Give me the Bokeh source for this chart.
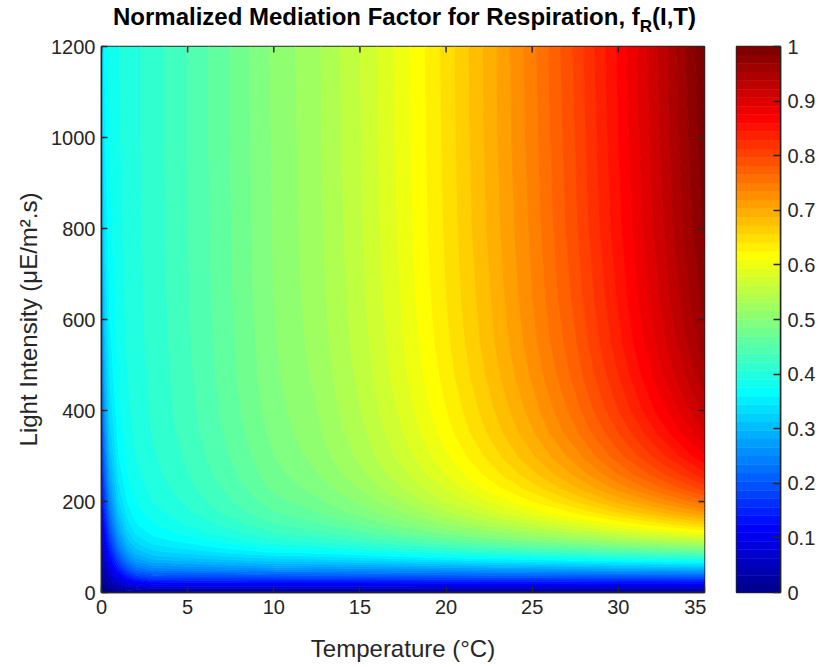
import numpy as np
from bokeh.plotting import figure
from bokeh.layouts import column, row
from bokeh.models import FixedTicker, NumeralTickFormatter, Range1d, Div
from bokeh.embed import file_html
from bokeh.resources import INLINE

# Grid of temperatures (deg C) and light intensities (uE/m^2.s)
temperature = [0, 0.25, 0.5, 1, 1.5, 2, 3, 4, 5, 7.5, 10, 12.5, 15, 17.5, 20,
               22.5, 25, 27.5, 30, 32.5, 35]
intensity = [0, 10, 20, 30, 40, 50, 60, 70, 80, 90, 100, 115, 130, 150, 175,
             200, 230, 260, 300, 350, 400, 475, 550, 650, 800, 1000, 1200]

# Normalized factor f_R along temperature, one list per light intensity
f_I0 = [0.000] * 21
f_I10 = [0.006, 0.010, 0.016, 0.029, 0.041, 0.050, 0.057, 0.057, 0.057, 0.057, 0.057,
         0.057, 0.057, 0.057, 0.058, 0.058, 0.058, 0.058, 0.058, 0.058, 0.058]
f_I20 = [0.012, 0.021, 0.032, 0.057, 0.081, 0.099, 0.111, 0.111, 0.112, 0.112, 0.113,
         0.113, 0.113, 0.114, 0.114, 0.114, 0.114, 0.114, 0.115, 0.115, 0.115]
f_I30 = [0.017, 0.031, 0.048, 0.085, 0.119, 0.143, 0.160, 0.161, 0.161, 0.163, 0.164,
         0.165, 0.166, 0.167, 0.168, 0.168, 0.169, 0.170, 0.170, 0.170, 0.171]
f_I40 = [0.023, 0.041, 0.064, 0.111, 0.153, 0.182, 0.202, 0.203, 0.204, 0.207, 0.210,
         0.212, 0.215, 0.217, 0.218, 0.220, 0.221, 0.222, 0.223, 0.224, 0.225]
f_I50 = [0.029, 0.052, 0.079, 0.136, 0.184, 0.215, 0.237, 0.239, 0.241, 0.246, 0.251,
         0.252, 0.253, 0.255, 0.258, 0.262, 0.264, 0.267, 0.271, 0.274, 0.278]
f_I60 = [0.035, 0.062, 0.094, 0.159, 0.211, 0.243, 0.266, 0.269, 0.272, 0.279, 0.286,
         0.288, 0.291, 0.295, 0.299, 0.305, 0.309, 0.313, 0.318, 0.323, 0.328]
f_I70 = [0.040, 0.071, 0.109, 0.180, 0.235, 0.267, 0.290, 0.294, 0.297, 0.307, 0.315,
         0.318, 0.323, 0.330, 0.337, 0.344, 0.349, 0.356, 0.363, 0.370, 0.375]
f_I80 = [0.046, 0.081, 0.123, 0.199, 0.255, 0.286, 0.309, 0.314, 0.318, 0.330, 0.341,
         0.344, 0.351, 0.361, 0.371, 0.379, 0.387, 0.395, 0.404, 0.413, 0.420]
f_I90 = [0.051, 0.091, 0.136, 0.217, 0.273, 0.303, 0.324, 0.330, 0.335, 0.349, 0.362,
         0.368, 0.376, 0.388, 0.400, 0.410, 0.421, 0.431, 0.442, 0.452, 0.462]
f_I100 = [0.057, 0.100, 0.149, 0.233, 0.288, 0.316, 0.337, 0.343, 0.349, 0.365, 0.380,
          0.387, 0.398, 0.411, 0.425, 0.439, 0.451, 0.463, 0.477, 0.489, 0.501]
f_I115 = [0.065, 0.114, 0.168, 0.254, 0.306, 0.332, 0.352, 0.359, 0.366, 0.384, 0.402,
          0.411, 0.425, 0.441, 0.458, 0.475, 0.491, 0.506, 0.524, 0.540, 0.555]
f_I130 = [0.074, 0.127, 0.185, 0.271, 0.321, 0.345, 0.363, 0.371, 0.379, 0.399, 0.419,
          0.430, 0.446, 0.466, 0.486, 0.505, 0.524, 0.543, 0.564, 0.583, 0.603]
f_I150 = [0.084, 0.144, 0.206, 0.291, 0.336, 0.357, 0.374, 0.383, 0.392, 0.413, 0.436,
          0.450, 0.469, 0.491, 0.515, 0.538, 0.561, 0.585, 0.610, 0.634, 0.658]
f_I175 = [0.098, 0.164, 0.228, 0.310, 0.349, 0.368, 0.384, 0.393, 0.403, 0.427, 0.451,
          0.467, 0.489, 0.514, 0.542, 0.570, 0.597, 0.625, 0.655, 0.685, 0.715]
f_I200 = [0.111, 0.183, 0.248, 0.325, 0.359, 0.375, 0.391, 0.400, 0.410, 0.436, 0.462,
          0.480, 0.503, 0.532, 0.563, 0.593, 0.624, 0.656, 0.692, 0.726, 0.761]
f_I230 = [0.125, 0.203, 0.268, 0.338, 0.368, 0.382, 0.396, 0.406, 0.417, 0.443, 0.472,
          0.491, 0.516, 0.547, 0.580, 0.615, 0.648, 0.685, 0.724, 0.764, 0.804]
f_I260 = [0.140, 0.221, 0.285, 0.348, 0.374, 0.386, 0.400, 0.411, 0.421, 0.449, 0.478,
          0.499, 0.526, 0.558, 0.594, 0.630, 0.667, 0.706, 0.750, 0.793, 0.838]
f_I300 = [0.158, 0.242, 0.303, 0.358, 0.379, 0.390, 0.404, 0.414, 0.425, 0.454, 0.484,
          0.506, 0.535, 0.569, 0.606, 0.645, 0.685, 0.727, 0.775, 0.823, 0.873]
f_I350 = [0.179, 0.264, 0.320, 0.366, 0.384, 0.394, 0.407, 0.418, 0.429, 0.458, 0.489,
          0.512, 0.541, 0.577, 0.617, 0.658, 0.700, 0.746, 0.796, 0.849, 0.904]
f_I400 = [0.198, 0.282, 0.332, 0.372, 0.387, 0.396, 0.409, 0.420, 0.431, 0.461, 0.493,
          0.515, 0.546, 0.583, 0.624, 0.666, 0.710, 0.758, 0.812, 0.868, 0.926]
f_I475 = [0.223, 0.303, 0.346, 0.378, 0.390, 0.398, 0.410, 0.422, 0.433, 0.464, 0.496,
          0.519, 0.551, 0.589, 0.631, 0.675, 0.721, 0.771, 0.827, 0.887, 0.948]
f_I550 = [0.244, 0.319, 0.355, 0.381, 0.392, 0.400, 0.412, 0.423, 0.435, 0.465, 0.498,
          0.522, 0.554, 0.593, 0.636, 0.681, 0.728, 0.779, 0.838, 0.899, 0.963]
f_I650 = [0.268, 0.334, 0.363, 0.384, 0.394, 0.401, 0.413, 0.424, 0.436, 0.467, 0.500,
          0.524, 0.557, 0.596, 0.640, 0.685, 0.734, 0.786, 0.846, 0.909, 0.976]
f_I800 = [0.294, 0.349, 0.371, 0.387, 0.395, 0.402, 0.413, 0.425, 0.437, 0.468, 0.501,
          0.526, 0.559, 0.599, 0.643, 0.690, 0.738, 0.793, 0.854, 0.918, 0.987]
f_I1000 = [0.319, 0.361, 0.377, 0.389, 0.396, 0.403, 0.414, 0.426, 0.438, 0.469, 0.502,
           0.527, 0.561, 0.601, 0.645, 0.693, 0.742, 0.797, 0.859, 0.924, 0.995]
f_I1200 = [0.335, 0.368, 0.380, 0.390, 0.397, 0.403, 0.414, 0.426, 0.438, 0.469, 0.503,
           0.528, 0.562, 0.602, 0.646, 0.694, 0.744, 0.800, 0.862, 0.928, 1.000]

x_ticks = [0, 5, 10, 15, 20, 25, 30, 35]
y_ticks = [0, 200, 400, 600, 800, 1000, 1200]
cb_ticks = [0, 0.1, 0.2, 0.3, 0.4, 0.5, 0.6, 0.7, 0.8, 0.9, 1]

f_grid = np.array([f_I0, f_I10, f_I20, f_I30, f_I40, f_I50, f_I60, f_I70, f_I80,
                   f_I90, f_I100, f_I115, f_I130, f_I150, f_I175, f_I200, f_I230,
                   f_I260, f_I300, f_I350, f_I400, f_I475, f_I550, f_I650, f_I800,
                   f_I1000, f_I1200])


def jet64():
    """64-step jet colormap (dark blue -> blue -> cyan -> yellow -> red -> dark red)."""
    n = 16
    ramp = np.concatenate([np.arange(1, n + 1) / n, np.ones(n - 1), np.arange(n, 0, -1) / n])
    g = 8 + np.arange(1, len(ramp) + 1)
    rgb = np.zeros((64, 3))
    for idx, ch in ((g + n, 0), (g, 1), (g - n, 2)):
        keep = (idx >= 1) & (idx <= 64)
        rgb[idx[keep] - 1, ch] = ramp[keep]
    return ["#%02x%02x%02x" % tuple(int(round(c * 255)) for c in row) for row in rgb]


palette = jet64()
INK = "#262626"
FONT = "Liberation Sans"
FRAME_W, FRAME_H = 603, 546
TICK_PX = 6
TOP, BOTTOM = 14, 75
FIG_H = TOP + FRAME_H + BOTTOM

# ---- main filled-contour panel ----
p = figure(width=706, height=FIG_H, x_range=Range1d(0, 35), y_range=Range1d(0, 1200),
           output_backend="svg", toolbar_location=None,
           min_border_left=101, min_border_right=2, min_border_top=TOP,
           min_border_bottom=BOTTOM)
p.grid.visible = False
p.outline_line_color = INK
p.outline_line_width = 1.5

band_edges = np.linspace(0, 1, 65)
levels = list(band_edges)
levels[0] = -0.001
levels[-1] = 1.001
p.contour(np.array(temperature), np.array(intensity), f_grid, levels,
          fill_color=palette, line_color=palette + [palette[-1]], line_width=1.2)

# inward ticks mirrored on the top and right edges of the box
x_lo, x_hi = p.x_range.start, p.x_range.end
y_lo, y_hi = p.y_range.start, p.y_range.end
dy = TICK_PX * (y_hi - y_lo) / FRAME_H
dx = TICK_PX * (x_hi - x_lo) / FRAME_W
p.segment(x0=x_ticks, y0=[y_hi] * len(x_ticks), x1=x_ticks, y1=[y_hi - dy] * len(x_ticks),
          line_color=INK, line_width=1.5)
p.segment(x0=[x_hi] * len(y_ticks), y0=y_ticks, x1=[x_hi - dx] * len(y_ticks), y1=y_ticks,
          line_color=INK, line_width=1.5)

xax, yax = p.xaxis[0], p.yaxis[0]
xax.ticker = FixedTicker(ticks=x_ticks)
yax.ticker = FixedTicker(ticks=y_ticks)
xax.axis_label = "Temperature (°C)"
yax.axis_label = "Light Intensity (μE/m².s)"
for ax in (xax, yax):
    ax.major_tick_in = TICK_PX
    ax.major_tick_out = 0
    ax.minor_tick_line_color = None
    ax.axis_line_color = INK
    ax.axis_line_width = 1.5
    ax.major_tick_line_color = INK
    ax.major_tick_line_width = 1.5
    ax.major_label_text_font = FONT
    ax.major_label_text_font_size = "20px"
    ax.major_label_text_color = INK
    ax.axis_label_text_font = FONT
    ax.axis_label_text_font_size = "24px"
    ax.axis_label_text_font_style = "normal"
    ax.axis_label_text_color = INK
yax.major_label_standoff = 6
yax.axis_label_standoff = 6
xax.major_label_standoff = 7
xax.axis_label_standoff = 18

# ---- colour scale panel ----
cbar = figure(width=113, height=FIG_H, x_range=Range1d(0, 1), y_range=Range1d(0, 1),
              output_backend="svg", toolbar_location=None,
              x_axis_location=None, y_axis_location="right",
              min_border_left=30, min_border_right=39, min_border_top=TOP,
              min_border_bottom=BOTTOM)
cbar.grid.visible = False
cbar.outline_line_color = INK
cbar.outline_line_width = 1.5
cbar.quad(left=0, right=1, bottom=band_edges[:-1], top=band_edges[1:],
          fill_color=palette, line_color=palette, line_width=0.5)
cax = cbar.yaxis[0]
cax.ticker = FixedTicker(ticks=cb_ticks)
cax.formatter = NumeralTickFormatter(format="0.[0]")
cax.major_tick_in = 7
cax.major_tick_out = 0
cax.minor_tick_line_color = None
cax.axis_line_color = INK
cax.axis_line_width = 1.5
cax.major_tick_line_color = INK
cax.major_tick_line_width = 1.5
cax.major_label_standoff = 7
cax.major_label_text_font = FONT
cax.major_label_text_font_size = "20px"
cax.major_label_text_color = INK

# ---- title with subscript ----
title_html = (
    '<div style="position:relative;width:819px;height:32px;overflow:visible;">'
    '<span style="position:absolute;left:113px;top:3px;white-space:nowrap;'
    "font-family:'Liberation Sans';font-size:24px;font-weight:bold;color:#000;"
    'line-height:27px;">Normalized Mediation Factor for Respiration, f'
    '<span style="font-size:17px;vertical-align:-7px;">R</span>(I,T)</span></div>'
)
title_div = Div(text=title_html, width=819, height=32, margin=0)

page = column(title_div, row(p, cbar, spacing=0), spacing=0)
open("out.html", "w").write(file_html(page, INLINE))
